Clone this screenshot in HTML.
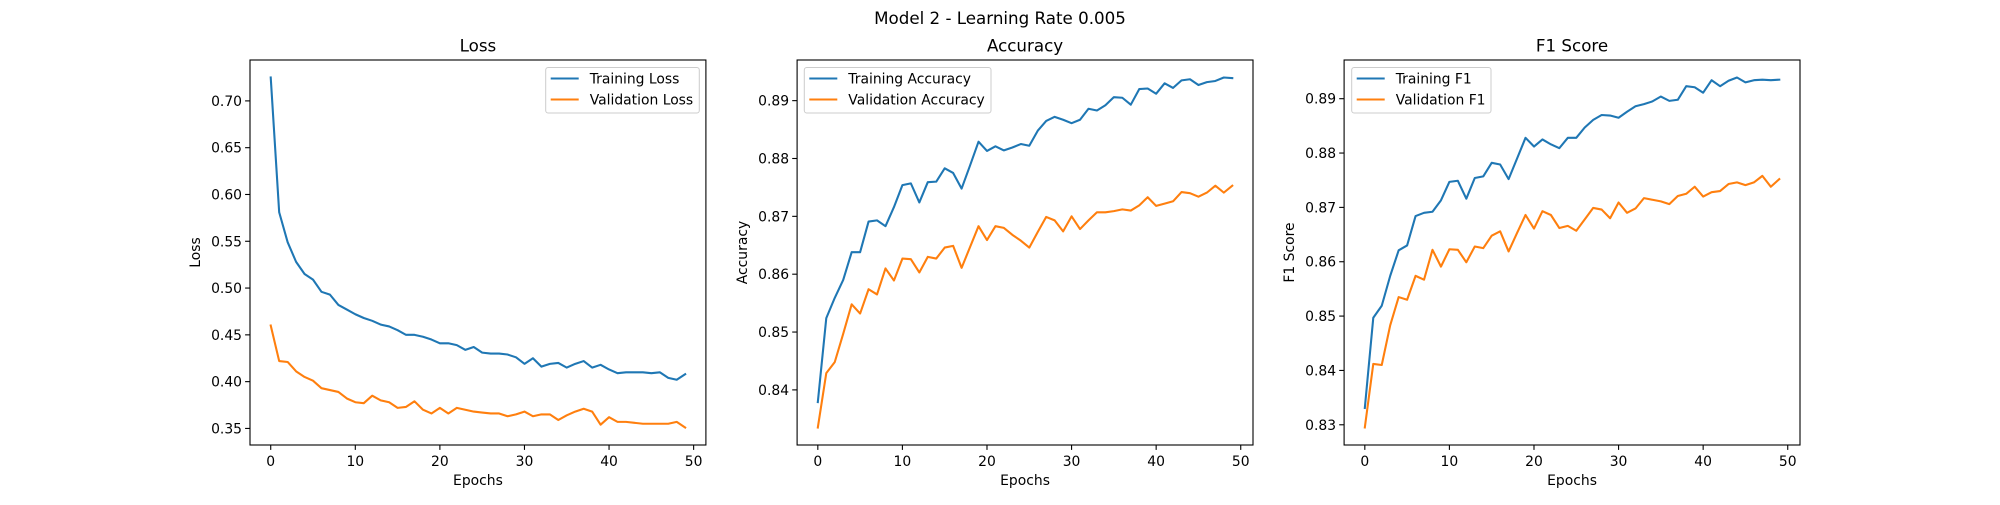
<!DOCTYPE html>
<html><head><meta charset="utf-8"><style>
html,body{margin:0;padding:0;background:#fff;}
svg text{font-family:"DejaVu Sans","Liberation Sans",sans-serif;fill:#000;}
</style></head><body>
<svg id="fig" width="2000" height="500" viewBox="0 0 2000 500" xmlns="http://www.w3.org/2000/svg">
<rect width="2000" height="500" fill="#fff"/>
<text x="1000" y="24" font-size="16.7" text-anchor="middle">Model 2 - Learning Rate 0.005</text>
</svg>
<script>
const epochs = Array.from({length:50},(_,i)=>i);
const xTicks = [0,10,20,30,40,50];

const lossTrain = [0.725,0.581,0.549,0.528,0.515,0.509,0.496,0.493,0.482,0.477,0.472,0.468,0.465,0.461,0.459,0.455,0.450,0.450,0.448,0.445,0.441,0.441,0.439,0.434,0.437,0.431,0.430,0.430,0.429,0.426,0.419,0.425,0.416,0.419,0.420,0.415,0.419,0.422,0.415,0.418,0.413,0.409,0.410,0.410,0.410,0.409,0.410,0.404,0.402,0.408];
const lossVal = [0.460,0.422,0.421,0.411,0.405,0.401,0.393,0.391,0.389,0.382,0.378,0.377,0.385,0.380,0.378,0.372,0.373,0.379,0.370,0.366,0.372,0.366,0.372,0.370,0.368,0.367,0.366,0.366,0.363,0.365,0.368,0.363,0.365,0.365,0.359,0.364,0.368,0.371,0.368,0.354,0.362,0.357,0.357,0.356,0.355,0.355,0.355,0.355,0.357,0.351];
const lossTicks = [0.35,0.40,0.45,0.50,0.55,0.60,0.65,0.70];

const accTrain = [0.8379,0.8524,0.8559,0.8590,0.8638,0.8638,0.8691,0.8693,0.8683,0.8716,0.8754,0.8757,0.8724,0.8759,0.8760,0.8783,0.8775,0.8748,0.8788,0.8829,0.8813,0.8821,0.8814,0.8819,0.8825,0.8822,0.8848,0.8865,0.8872,0.8867,0.8861,0.8867,0.8886,0.8883,0.8892,0.8906,0.8905,0.8893,0.8920,0.8921,0.8912,0.8930,0.8922,0.8935,0.8937,0.8927,0.8932,0.8934,0.8940,0.8939];
const accVal = [0.8335,0.8429,0.8448,0.8497,0.8548,0.8532,0.8574,0.8565,0.8610,0.8589,0.8627,0.8626,0.8603,0.8630,0.8627,0.8646,0.8649,0.8611,0.8647,0.8683,0.8659,0.8683,0.8680,0.8668,0.8658,0.8646,0.8673,0.8699,0.8693,0.8674,0.8700,0.8678,0.8693,0.8707,0.8707,0.8709,0.8712,0.8710,0.8719,0.8733,0.8718,0.8722,0.8726,0.8742,0.8740,0.8734,0.8741,0.8753,0.8741,0.8753];
const accTicks = [0.84,0.85,0.86,0.87,0.88,0.89];

const f1Train = [0.8331,0.8497,0.8519,0.8574,0.8621,0.8630,0.8684,0.8690,0.8692,0.8713,0.8747,0.8749,0.8716,0.8754,0.8757,0.8782,0.8779,0.8752,0.8790,0.8828,0.8812,0.8825,0.8816,0.8809,0.8828,0.8828,0.8847,0.8861,0.8870,0.8869,0.8865,0.8876,0.8886,0.8890,0.8895,0.8904,0.8896,0.8898,0.8923,0.8921,0.8911,0.8934,0.8923,0.8933,0.8939,0.8930,0.8934,0.8935,0.8934,0.8935];
const f1Val = [0.8295,0.8412,0.8410,0.8483,0.8535,0.8530,0.8574,0.8567,0.8622,0.8591,0.8623,0.8622,0.8599,0.8628,0.8625,0.8648,0.8656,0.8619,0.8653,0.8686,0.8661,0.8693,0.8686,0.8662,0.8666,0.8657,0.8678,0.8699,0.8696,0.8680,0.8709,0.8690,0.8698,0.8717,0.8714,0.8711,0.8706,0.8721,0.8725,0.8738,0.8720,0.8728,0.8730,0.8743,0.8746,0.8741,0.8746,0.8758,0.8738,0.8752];
const f1Ticks = [0.83,0.84,0.85,0.86,0.87,0.88,0.89];

const svg = document.getElementById('fig');
const NS = 'http://www.w3.org/2000/svg';
function mk(tag, attrs, parent){const e=document.createElementNS(NS,tag);for(const k in attrs)e.setAttribute(k,attrs[k]);(parent||svg).appendChild(e);return e;}

function drawChart(cfg){
  const L=cfg.left, W=455.9, T=60, H=385;
  const g = mk('g',{});
  
  
  const all = cfg.train.concat(cfg.val);
  const mn=Math.min(...all), mx=Math.max(...all), m=(mx-mn)*0.05;
  const y0=mn-m, y1=mx+m;
  const xmn=Math.min(...epochs), xmx=Math.max(...epochs), xm=(xmx-xmn)*0.05;
  const sx = v => L + (v-(xmn-xm))/((xmx+xm)-(xmn-xm))*W;
  const sy = v => T + H - (v-y0)/(y1-y0)*H;
  // title
  const t = mk('text',{x:L+W/2,y:T-8.5,'font-size':16.7,'text-anchor':'middle'},g);
  t.textContent = cfg.title;
  
  
  // x ticks
  xTicks.forEach(v=>{
    const x=sx(v);
    mk('line',{x1:x,x2:x,y1:T+H,y2:T+H+4.9,stroke:'#000','stroke-width':1.1},g);
    const tl=mk('text',{x:x,y:T+H+21,'font-size':13.9,'text-anchor':'middle'},g);
    tl.textContent=v;
    
    
  });
  cfg.ticks.forEach(v=>{
    const y=sy(v);
    mk('line',{x1:L-4.9,x2:L,y1:y,y2:y,stroke:'#000','stroke-width':1.1},g);
    const tl=mk('text',{x:L-8,y:y+5,'font-size':13.9,'text-anchor':'end'},g);
    tl.textContent=v.toFixed(2);
    
    
  });
  const xl=mk('text',{x:L+W/2,y:485,'font-size':13.9,'text-anchor':'middle'},g);
  xl.textContent='Epochs';
  
  
  const yx=L-50;
  const yl=mk('text',{x:yx,y:T+H/2,'font-size':13.9,'text-anchor':'middle',transform:`rotate(-90 ${yx} ${T+H/2})`},g);
  yl.textContent=cfg.ylabel;
  
  
  // lines
  [[cfg.train,'#1f77b4','training'],[cfg.val,'#ff7f0e','validation']].forEach(([arr,c,n])=>{
    const p=mk('polyline',{points:arr.map((v,i)=>sx(epochs[i]).toFixed(2)+','+sy(v).toFixed(2)).join(' '),fill:'none',stroke:c,'stroke-width':2.08,'stroke-linejoin':'round','stroke-linecap':'square'},g);
    
    
  });
  // frame
  const f=mk('rect',{x:L,y:T,width:W,height:H,fill:'none',stroke:'#000','stroke-width':1.1},g);
  
  
  // legend
  const lg=mk('g',{},g);
  
  
  mk('rect',{x:cfg.lx,y:67.5,width:cfg.lw,height:45.5,rx:2.5,fill:'#fff','fill-opacity':0.8,stroke:'#ccc','stroke-width':1},lg);
  [[cfg.labels[0],'#1f77b4',78.5],[cfg.labels[1],'#ff7f0e',99.5]].forEach(([txt,c,y])=>{
    const e=mk('g',{},lg);
    
    
    mk('line',{x1:cfg.lx+5,x2:cfg.lx+33,y1:y,y2:y,stroke:c,'stroke-width':2.08},e);
    const tt=mk('text',{x:cfg.lx+44,y:y+5,'font-size':13.9},e);
    tt.textContent=txt;
  });
}
drawChart({name:'loss',left:250,title:'Loss',ylabel:'Loss',train:lossTrain,val:lossVal,ticks:lossTicks,labels:['Training Loss','Validation Loss'],lx:545.7,lw:153.6});
drawChart({name:'accuracy',left:797.1,title:'Accuracy',ylabel:'Accuracy',train:accTrain,val:accVal,ticks:accTicks,labels:['Training Accuracy','Validation Accuracy'],lx:804.3,lw:186.7});
drawChart({name:'f1',left:1344.1,title:'F1 Score',ylabel:'F1 Score',train:f1Train,val:f1Val,ticks:f1Ticks,labels:['Training F1','Validation F1'],lx:1351.7,lw:139.3});
</script>
</body></html>
